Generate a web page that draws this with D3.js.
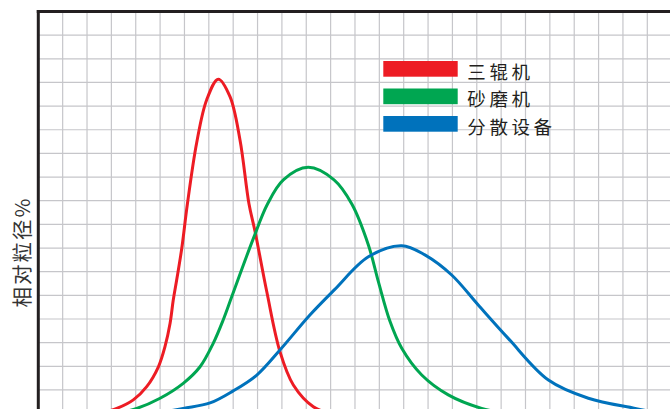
<!DOCTYPE html>
<html>
<head>
<meta charset="utf-8">
<script src="https://cdn.jsdelivr.net/npm/d3@7"></script>
<style>
    html, body { margin: 0; padding: 0; background: #fff; }
    svg { display: block; }
    text { font-family: "Noto Sans CJK SC", "Noto Sans", sans-serif; fill: #231f20; }
</style>
</head>
<body>
<svg id="chart" width="670" height="409"></svg>
<script>
// grid units, x = particle size, y = relative %
const gridX = d3.range(0, 27);
const gridY = d3.range(0, 18);

const seriesNames = ['三辊机', '砂磨机', '分散设备'];
const seriesColours = ['#ed1c24', '#00a651', '#0072bc'];

const rollerMill = [
    [2.5, 0], [3.22, 0.22], [3.9, 0.58], [4.45, 1.14], [4.93, 1.98], [5.2, 2.83],
    [5.41, 3.82], [5.54, 4.8], [5.68, 5.65], [5.89, 6.99], [6.12, 8.86],
    [6.5, 11.44], [6.91, 13.26], [7.39, 14.14], [7.87, 13.4], [8.28, 11.57],
    [8.65, 8.86], [8.9, 7.69], [9.38, 5.15], [9.92, 2.62], [10.47, 1.21],
    [11.29, 0.29], [12.0, 0]
];
const sandMill = [
    [3.2, 0], [4.04, 0.22], [5.0, 0.65], [5.95, 1.28], [6.64, 1.98], [7.18, 2.97],
    [7.59, 3.96], [7.94, 4.94], [8.83, 7.41], [9.41, 8.86], [10.06, 9.88],
    [11.08, 10.41], [12.14, 9.88], [12.87, 8.86], [13.55, 7.13], [13.96, 5.58],
    [14.44, 3.89], [14.92, 2.76], [15.74, 1.63], [16.83, 0.79], [18.2, 0.22], [19.3, 0]
];
const disperser = [
    [4.8, 0], [5.95, 0.22], [7.05, 0.45], [8.0, 0.96], [8.97, 1.63], [9.92, 2.69],
    [11.15, 4.17], [12.15, 5.23], [13.55, 6.63], [14.92, 7.1], [15.87, 6.71],
    [16.97, 5.86], [18.06, 4.59], [19.29, 3.18], [20.94, 1.42], [22.58, 0.65],
    [24.5, 0.22], [25.6, 0]
];
const allSeries = [rollerMill, sandMill, disperser];

const svg = d3.select('#chart');

const x = d3.scaleLinear().domain([0, 26]).range([38.3, 38.3 + 26 * 24.36]);
const y = d3.scaleLinear().domain([0, 17]).range([413.6, 11.5]);

// grid
svg.append('g')
    .selectAll('line')
    .data(gridX.slice(1))
    .join('line')
    .attr('x1', d => x(d)).attr('x2', d => x(d))
    .attr('y1', y(17)).attr('y2', 409)
    .attr('stroke', '#c6c6ca')
    .attr('stroke-width', 1.2);

svg.append('g')
    .selectAll('line')
    .data(gridY.slice(1, -1))
    .join('line')
    .attr('x1', x(0)).attr('x2', 670)
    .attr('y1', d => y(d)).attr('y2', d => y(d))
    .attr('stroke', '#c6c6ca')
    .attr('stroke-width', 1.2);

// axes frame
svg.append('line')
    .attr('x1', x(0)).attr('x2', x(0))
    .attr('y1', y(17) - 1.5).attr('y2', 409)
    .attr('stroke', '#231f20').attr('stroke-width', 3);
svg.append('line')
    .attr('x1', x(0) - 1.5).attr('x2', 670)
    .attr('y1', y(17)).attr('y2', y(17))
    .attr('stroke', '#231f20').attr('stroke-width', 3);

// curves
const line = d3.line()
    .x(d => x(d[0]))
    .y(d => y(d[1]))
    .curve(d3.curveCatmullRom.alpha(0.5));

svg.append('g')
    .selectAll('path')
    .data(allSeries)
    .join('path')
    .attr('d', line)
    .attr('fill', 'none')
    .attr('stroke', (d, i) => seriesColours[i])
    .attr('stroke-width', 3)
    .attr('stroke-linejoin', 'round');

// legend
const legend = svg.append('g');
const rows = legend.selectAll('g')
    .data(seriesNames)
    .join('g')
    .attr('transform', (d, i) => `translate(383.3, ${61 + i * 27.5})`);
rows.append('rect')
    .attr('width', 74.4)
    .attr('height', 15.7)
    .attr('fill', (d, i) => seriesColours[i]);
rows.append('text')
    .attr('x', 84)
    .attr('y', 9.5)
    .attr('dominant-baseline', 'central')
    .attr('font-size', 18.5)
    .attr('letter-spacing', 3.6)
    .text(d => d);

// y label
svg.append('text')
    .attr('transform', 'translate(21, 252) rotate(-90)')
    .attr('text-anchor', 'middle')
    .attr('dominant-baseline', 'central')
    .attr('font-size', 20.5)
    .attr('letter-spacing', 2)
    .style('fill', '#333')
    .text('相对粒径%');
</script>
</body>
</html>
